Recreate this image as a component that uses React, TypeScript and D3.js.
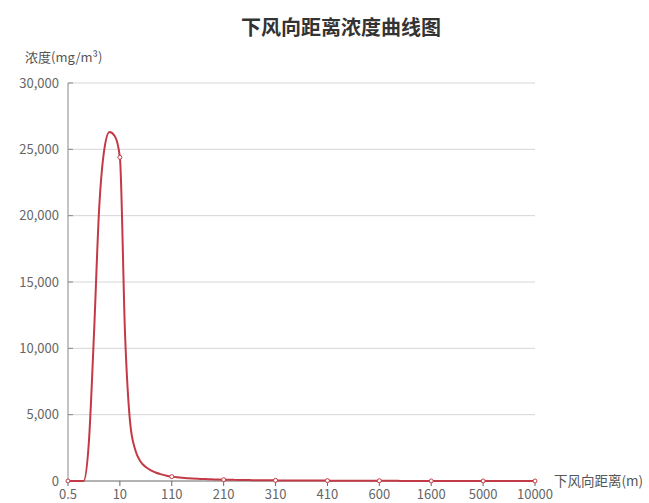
import React from "react";
import * as d3 from "d3";

const xCategories: string[] = [
  "0.5", "1", "2", "3", "4", "5", "6", "7", "8", "9", "10",
  "20", "30", "40", "50", "60", "70", "80", "90", "100", "110",
  "120", "130", "140", "150", "160", "170", "180", "190", "200", "210",
  "220", "230", "240", "250", "260", "270", "280", "290", "300", "310",
  "320", "330", "340", "350", "360", "370", "380", "390", "400", "410",
  "420", "430", "440", "450", "460", "470", "480", "490", "500", "600",
  "700", "800", "900", "1000", "1100", "1200", "1300", "1400", "1500", "1600",
  "1700", "1800", "1900", "2000", "2500", "3000", "3500", "4000", "4500", "5000",
  "5500", "6000", "6500", "7000", "7500", "8000", "8500", "9000", "9500", "10000",
];

const concentration: number[] = [
  0, 0, 0, 0, 2800, 11000, 20500, 25000, 26300, 26000, 24400,
  11000, 4300, 2300, 1450, 1050, 800, 620, 500, 400, 330,
  280, 240, 210, 185, 165, 150, 135, 120, 110, 100,
  92, 85, 78, 72, 67, 62, 58, 54, 51, 48,
  45, 42, 40, 38, 36, 34, 32, 31, 29, 28,
  27, 26, 25, 24, 23, 22, 21, 20, 19, 18,
  15, 12, 10, 9, 8, 7, 6, 5, 5, 4,
  4, 3, 3, 3, 2, 2, 1, 1, 1, 1,
  1, 1, 1, 1, 0, 0, 0, 0, 0, 0,
];

const yTicks: number[] = [0, 5000, 10000, 15000, 20000, 25000, 30000];

const titleText = "下风向距离浓度曲线图";
const yAxisName = "浓度(mg/m³)";
const xAxisName = "下风向距离(m)";

const W = 649;
const H = 503;
const left = 68;
const right = 535;
const top = 83;
const bottom = 481;
const labelEvery = 10;
const lineColor = "#c23a45";
const font = "'Noto Sans CJK SC', 'Noto Sans', sans-serif";

export default function App() {
  const x = d3
    .scalePoint<string>()
    .domain(xCategories)
    .range([left, right]);
  const y = d3.scaleLinear().domain([0, 30000]).range([bottom, top]);

  const line = d3
    .line<number>()
    .x((_, i) => x(xCategories[i]) as number)
    .y((d) => y(d))
    .curve(d3.curveMonotoneX);

  const labelCats = xCategories.filter((_, i) => i % labelEvery === 0);
  const fmt = d3.format(",");

  return (
    <svg
      width={W}
      height={H}
      style={{ position: "absolute", left: 0, top: 0, background: "#fff" }}
      fontFamily={font}
    >
      <text
        x={341}
        y={35}
        textAnchor="middle"
        fontSize={20}
        fontWeight="bold"
        fill="#333"
      >
        {titleText}
      </text>
      <text x={25} y={62} fontSize={13} fill="#555">
        {yAxisName}
      </text>

      {yTicks.map((t) => (
        <g key={t}>
          {t > 0 && (
            <line
              x1={left}
              x2={right}
              y1={y(t)}
              y2={y(t)}
              stroke="#d6d6d6"
              strokeWidth={1}
            />
          )}
          <line
            x1={left}
            x2={left + 5}
            y1={y(t)}
            y2={y(t)}
            stroke="#888"
            strokeWidth={1}
          />
          <text
            x={left - 9}
            y={y(t)}
            dy="0.35em"
            textAnchor="end"
            fontSize={13}
            fill="#666"
          >
            {fmt(t)}
          </text>
        </g>
      ))}

      <line x1={left} x2={left} y1={top} y2={bottom} stroke="#888" />
      <line x1={left} x2={right} y1={bottom} y2={bottom} stroke="#666" />

      {labelCats.map((c) => (
        <g key={c}>
          <line
            x1={x(c)}
            x2={x(c)}
            y1={bottom}
            y2={bottom + 5}
            stroke="#666"
          />
          <text
            x={x(c)}
            y={bottom + 13}
            dy="0.35em"
            textAnchor="middle"
            fontSize={13}
            fill="#666"
          >
            {c}
          </text>
        </g>
      ))}

      <text x={554} y={bottom} dy="0.35em" fontSize={13.5} fill="#555">
        {xAxisName}
      </text>

      <path
        d={line(concentration) || ""}
        fill="none"
        stroke={lineColor}
        strokeWidth={2}
        strokeLinejoin="round"
      />

      {concentration.map((v, i) =>
        i % labelEvery === 0 ? (
          <circle
            key={i}
            cx={x(xCategories[i])}
            cy={y(v)}
            r={2}
            fill="#fff"
            stroke={lineColor}
            strokeWidth={1}
          />
        ) : null
      )}
    </svg>
  );
}
